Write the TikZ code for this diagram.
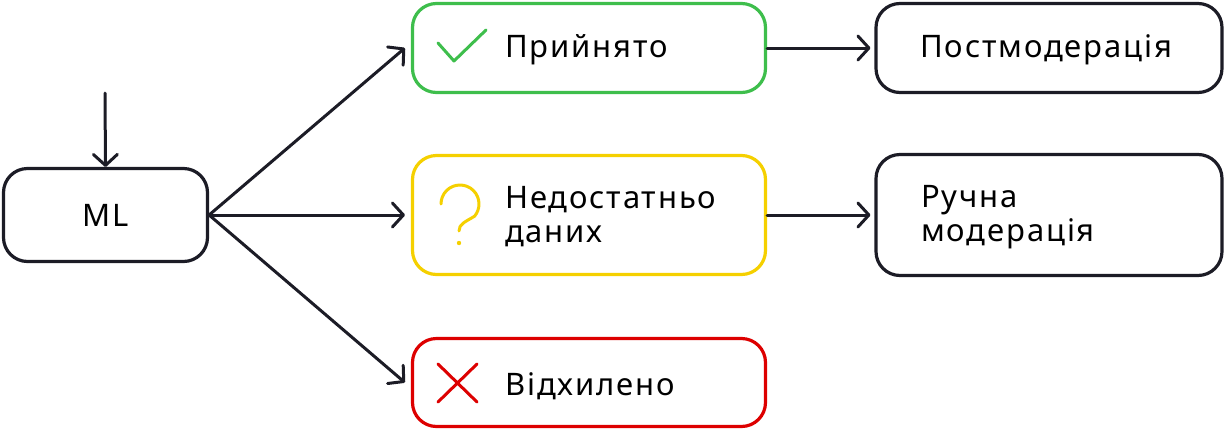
\documentclass[tikz,border=0pt]{standalone}
\usepackage{fontspec}
\setmainfont{Noto Sans}[LetterSpace=6]
\usetikzlibrary{arrows.meta}
\definecolor{ink}{HTML}{1C1C26}
\definecolor{okgreen}{HTML}{3EBE4C}
\definecolor{warnyellow}{HTML}{F5D000}
\definecolor{badred}{HTML}{DD0000}
\begin{document}
\begin{tikzpicture}[x=1pt,y=-1pt,
  box/.style={draw=ink,line width=3.2pt,rounded corners=24pt,inner sep=0pt,fill=white},
  lbl/.style={anchor=west,font=\fontsize{31}{34}\selectfont,text=black,inner sep=0pt,align=left},
  conn/.style={draw=ink,line width=3pt,line cap=round,-{Straight Barb[length=11pt,width=24pt,line cap=round,line join=round]}},
  icon/.style={line width=3pt,line cap=round,line join=round}
]
\useasboundingbox (0,0) rectangle (1227,432);
% boxes
\node[box,minimum width=204pt,minimum height=93pt,font=\fontsize{31}{34}\selectfont] (ml) at (105.5,215) {ML};
\node[box,draw=okgreen,minimum width=353pt,minimum height=89pt] (ok) at (589,48) {};
\node[box,draw=warnyellow,minimum width=353pt,minimum height=119pt] (mid) at (589,215) {};
\node[box,draw=badred,minimum width=353pt,minimum height=88pt] (no) at (589,382.5) {};
\node[box,minimum width=346pt,minimum height=89pt] (post) at (1049,48) {};
\node[box,minimum width=346pt,minimum height=121pt] (man) at (1049,215) {};
% labels
\node[lbl] (okt) at (505,50) {Прийнято};
\node[lbl] (midt) at (505,217) {Недостатньо\\даних};
\node[lbl] (not) at (505,386) {Відхилено};
\node[lbl] (postt) at (920,50) {Постмодерація};
\node[lbl] (mant) at (921,217) {Ручна\\модерація};
% icons
\draw[icon,okgreen] (438,43) -- (454,61) -- (486,30);
\draw[icon,badred] (438,364) -- (477,402) (477,364) -- (438,402);
\draw[icon,warnyellow] (441,204) arc[start angle=180,end angle=400,radius=19]
  .. controls (465,222) and (459,224) .. (459,231);
\fill[warnyellow] (459,243) circle (2.2pt);
% connectors
\coordinate (in) at (105,93);
\draw[conn] (in) -- (ml.north);
\draw[conn] (ml.east) -- ([xshift=-6pt]ok.west);
\draw[conn] (ml.east) -- ([xshift=-6pt]mid.west);
\draw[conn] (ml.east) -- ([xshift=-6pt]no.west);
\draw[conn] (ok.east) -- ([xshift=-4pt]post.west);
\draw[conn] (mid.east) -- ([xshift=-4pt]man.west);
\end{tikzpicture}
\end{document}
